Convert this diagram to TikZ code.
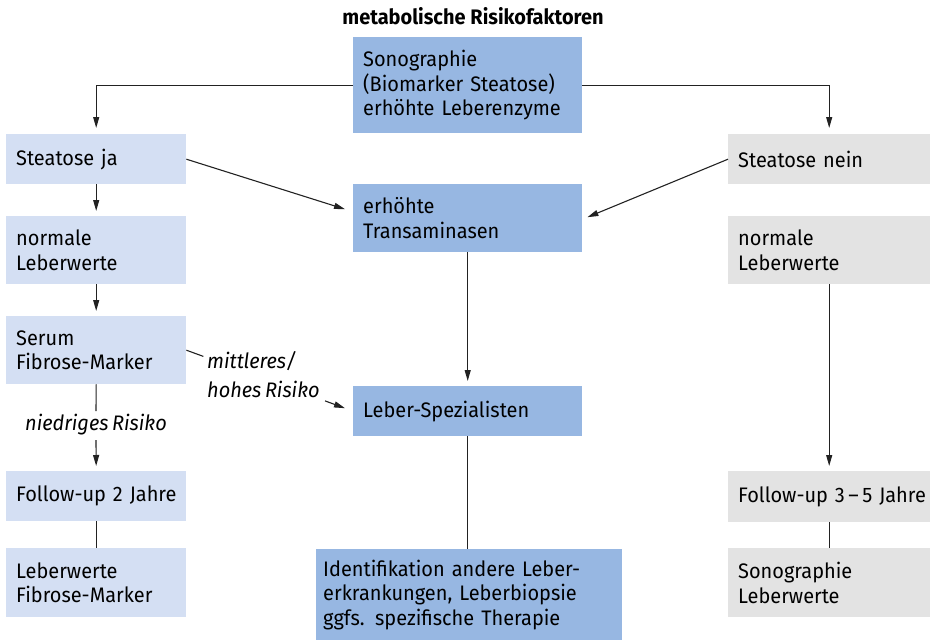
\documentclass[tikz,border=0pt]{standalone}
\usepackage{fontspec}
\setmainfont{Fira Sans}[FakeStretch=0.95, WordSpace=0.7]
\usetikzlibrary{arrows.meta,calc}
\definecolor{darkbox}{HTML}{97B7E2}
\definecolor{lightbox}{HTML}{D4DFF3}
\definecolor{graybox}{HTML}{E3E3E3}
\definecolor{linec}{HTML}{222222}
\tikzset{
  box/.style={anchor=north west, inner xsep=10pt, inner ysep=0pt, align=left, font=\fontsize{21}{24.5}\selectfont},
  dbox/.style={box, fill=darkbox},
  lbox/.style={box, fill=lightbox},
  gbox/.style={box, fill=graybox},
  conn/.style={draw=linec, line width=1.1pt},
  arr/.style={conn, -{Triangle[length=11pt,width=6pt]}},
  lab/.style={font=\fontsize{21}{29}\selectfont\itshape, align=left, inner sep=0pt}
}
\begin{document}
\begin{tikzpicture}[x=1pt,y=-1pt]
\useasboundingbox (0,0) rectangle (930,640);
\node[font=\fontsize{21}{22}\selectfont\bfseries] (title) at (473,16) {metabolische\hspace{5pt}Risikofaktoren};
% middle column
\node[dbox, text width=209pt, minimum height=96pt] (sono) at (353,37) {Sonographie\\\mbox{(Biomarker Steatose)}\\\mbox{erhöhte Leberenzyme}};
\node[dbox, text width=209pt, minimum height=68pt] (trans) at (353,184) {erhöhte\\Transaminasen};
\node[dbox, text width=209pt, minimum height=50pt] (spez) at (353,386) {\mbox{Leber-Spezialisten}};
\node[dbox, inner xsep=7pt, text width=292pt, minimum height=91pt] (ident) at (316,549) {\mbox{Identifikation andere Leber-}\\\mbox{erkrankungen, Leberbiopsie}\\\mbox{ggfs. spezifische Therapie}};
% left column
\node[lbox, text width=160pt, minimum height=50pt] (sj) at (6,134) {\mbox{Steatose ja}};
\node[lbox, text width=160pt, minimum height=68pt] (lnorm) at (6,216) {normale\\Leberwerte};
\node[lbox, text width=160pt, minimum height=68pt] (serum) at (6,316) {Serum\\\mbox{Fibrose-Marker}};
\node[lbox, text width=160pt, minimum height=50pt] (lfu) at (6,471) {\mbox{Follow-up 2 Jahre}};
\node[lbox, text width=160pt, minimum height=69pt] (lend) at (6,548) {Leberwerte\\\mbox{Fibrose-Marker}};
% right column
\node[gbox, text width=182pt, minimum height=50pt] (sn) at (728,134) {\mbox{Steatose nein}};
\node[gbox, text width=182pt, minimum height=68pt] (rnorm) at (728,216) {normale\\Leberwerte};
\node[gbox, text width=182pt, minimum height=51pt] (rfu) at (728,471) {\mbox{Follow-up 3\,–\,5 Jahre}};
\node[gbox, text width=182pt, minimum height=69pt] (rend) at (728,548) {Sonographie\\Leberwerte};
% labels
\node[lab] (low) at (96,425) {niedriges Risiko};
\node[lab, anchor=west] (mid) at (207,375) {mittleres/\\hohes Risiko};
% connectors
\draw[arr, shorten >=6pt] (sono.west) -| (sj.north);
\draw[arr, shorten >=6pt] (sono.east) -| (sn.north);
\coordinate (tL) at ($(trans.west)+(-8,-9)$);
\coordinate (tR) at ($(trans.east)+(5,-1)$);
\draw[arr] (sj.east) -- (tL);
\draw[arr] (sn.west) -- (tR);
\draw[arr, shorten >=5pt] (sj.south) -- (lnorm.north);
\draw[arr, shorten >=5pt] (lnorm.south) -- (serum.north);
\draw[conn] (serum.south) -- ($(low.center)+(0,-14)$);
\draw[arr, shorten >=5pt] ($(low.center)+(0,15)$) -- (lfu.north);
\draw[conn] (lfu.south) -- (lend.north);
\coordinate (mE) at ($(spez.west)+(-8,-3)$);
\draw[conn] (serum.east) -- ($(serum.east)!0.107!(mE)$);
\draw[arr] ($(serum.east)!0.874!(mE)$) -- (mE);
\draw[arr, shorten >=5pt] (trans.south) -- (spez.north);
\draw[conn] (spez.south) -- (spez.south |- ident.north);
\draw[arr, shorten >=5pt] (rnorm.south) -- (rfu.north);
\draw[conn] (rfu.south) -- (rend.north);
\end{tikzpicture}
\end{document}
